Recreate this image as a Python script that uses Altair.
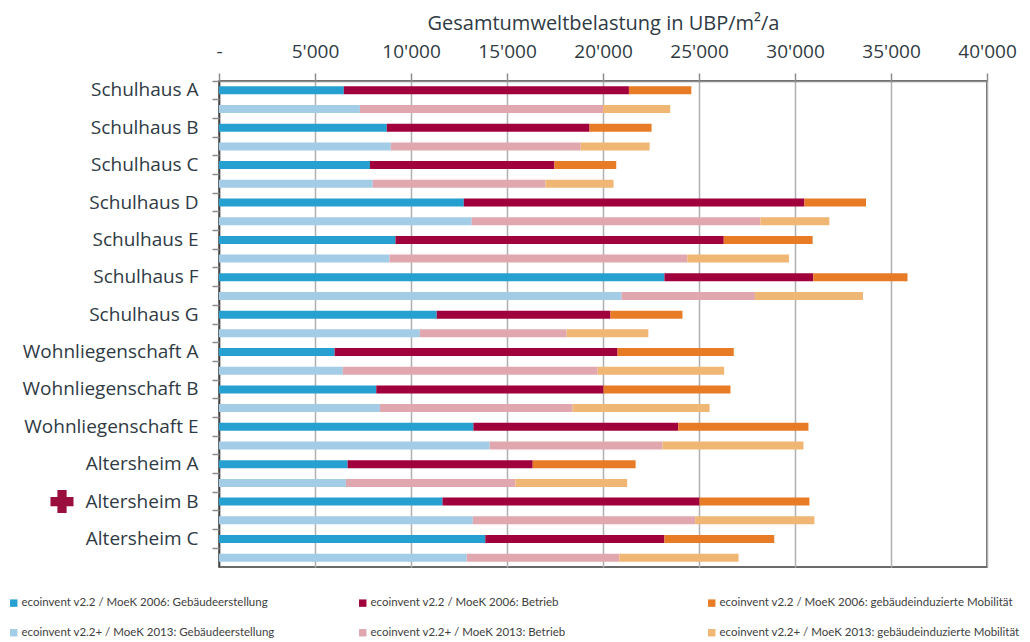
import altair as alt
import pandas as pd

buildings = ["Schulhaus A", "Schulhaus B", "Schulhaus C", "Schulhaus D", "Schulhaus E",
             "Schulhaus F", "Schulhaus G", "Wohnliegenschaft A", "Wohnliegenschaft B",
             "Wohnliegenschaft E", "Altersheim A", "Altersheim B", "Altersheim C"]

# ecoinvent v2.2 / MoeK 2006
erst_2006 = [6500, 8740, 7860, 12750, 9190, 23200, 11340, 6020, 8190, 13250, 6700, 11640, 13870]
betr_2006 = [14850, 10560, 9610, 17740, 17100, 7750, 9050, 14740, 11840, 10670, 9640, 13390, 9330]
mob_2006 = [3250, 3230, 3220, 3210, 4630, 4910, 3750, 6050, 6610, 6780, 5360, 5720, 5720]

# ecoinvent v2.2+ / MoeK 2013
erst_2013 = [7340, 8950, 8010, 13160, 8880, 20970, 10460, 6450, 8380, 14100, 6610, 13220, 12900]
betr_2013 = [12660, 9890, 9000, 15040, 15510, 6950, 7650, 13270, 10040, 9000, 8830, 11580, 7950]
mob_2013 = [3500, 3590, 3540, 3590, 5300, 5620, 4250, 6590, 7130, 7340, 5820, 6210, 6210]

series_names = [
    "ecoinvent v2.2 / MoeK 2006: Gebäudeerstellung",
    "ecoinvent v2.2 / MoeK 2006: Betrieb",
    "ecoinvent v2.2 / MoeK 2006: gebäudeinduzierte Mobilität",
    "ecoinvent v2.2+ / MoeK 2013: Gebäudeerstellung",
    "ecoinvent v2.2+ / MoeK 2013: Betrieb",
    "ecoinvent v2.2+ / MoeK 2013: gebäudeinduzierte Mobilität",
]
series_colors = ["#26A0D0", "#A0003C", "#E87C26", "#A3CDE6", "#E0A8AE", "#F0B673"]
x_ticks = [0, 5000, 10000, 15000, 20000, 25000, 30000, 35000, 40000]
marked_building = "Altersheim B"

rows = []
row_keys = []
for i, b in enumerate(buildings):
    ka = b + "|2006"
    kb = b + "|2013"
    row_keys += [ka, kb]
    for comp, (v, s) in enumerate(zip([erst_2006[i], betr_2006[i], mob_2006[i]], series_names[:3])):
        rows.append({"row": ka, "series": s, "value": v, "comp": comp})
    for comp, (v, s) in enumerate(zip([erst_2013[i], betr_2013[i], mob_2013[i]], series_names[3:])):
        rows.append({"row": kb, "series": s, "value": v, "comp": comp})
df = pd.DataFrame(rows)
df_rows = pd.DataFrame({"row": row_keys})
df_mark = pd.DataFrame({"row": [marked_building + "|2006"]})

yscale = alt.Scale(domain=row_keys, paddingInner=0, paddingOuter=0)
TEXT = "#2F3A44"

bars = alt.Chart(df).mark_bar(size=8).encode(
    x=alt.X("value:Q", stack="zero",
            scale=alt.Scale(domain=[0, 40000], nice=False),
            axis=alt.Axis(orient="top", values=x_ticks, labelFlush=False, labelOverlap=False,
                          labelExpr="datum.value == 0 ? '-' : replace(format(datum.value, ','), ',', \"'\")",
                          title="Gesamtumweltbelastung  in UBP/m²/a",
                          titleFont="Open Sans", titleFontSize=20, titleFontWeight="normal",
                          titleColor=TEXT, titlePadding=9,
                          labelFont="Open Sans", labelFontSize=19, labelColor=TEXT, labelPadding=12,
                          tickSize=8, tickColor="#8c8c8c", tickWidth=1.5,
                          grid=True, gridColor="#b0b0b0", gridWidth=1.5,
                          domainColor="#8c8c8c", domainWidth=1.5)),
    y=alt.Y("row:N", scale=yscale,
            axis=alt.Axis(orient="left", title=None, ticks=False,
                          labelExpr="indexof(datum.value, '|2013') >= 0 ? '' : split(datum.value, '|')[0]",
                          labelFont="Open Sans", labelFontSize=19, labelColor=TEXT, labelPadding=21,
                          domainColor="#404040", domainWidth=1.5)),
    color=alt.Color("series:N", scale=alt.Scale(domain=series_names, range=series_colors),
                    legend=alt.Legend(orient="none", legendX=-211, legendY=516, columns=3,
                                      direction="horizontal",
                                      title=None, symbolType="square", symbolSize=55,
                                      labelFont="Lato", labelFontSize=11.5, labelColor="#404040",
                                      labelOffset=2,
                                      gridAlign="all", columnPadding=35, rowPadding=17,
                                      labelLimit=400, symbolStrokeWidth=0)),
    order=alt.Order("comp:Q"),
)

ticks_layer = alt.Chart(df_rows).mark_point(opacity=0).encode(
    y=alt.Y("row:N", scale=yscale,
            axis=alt.Axis(orient="left", title=None, labels=False, ticks=True, tickSize=7,
                          tickColor="#8c8c8c", tickWidth=1.5, bandPosition=0, domain=False, grid=False)),
)

cross = alt.Chart(df_mark).mark_point(shape="cross", filled=True, size=530, color="#9B0F3E",
                                       opacity=1, clip=False).encode(
    y=alt.Y("row:N", scale=yscale, axis=None),
    x=alt.value(-157),
)

chart = alt.layer(bars, ticks_layer, cross).resolve_axis(y="independent").properties(
    width=768, height=486,
    autosize=alt.AutoSizeParams(type="none"),
    padding={"left": 211, "top": 73, "right": 35, "bottom": 75},
).configure(font="Lato").configure_view(stroke="#3a3a3a", strokeWidth=1.5)

chart.save("out.html", embed_options={"renderer": "svg", "actions": False})
